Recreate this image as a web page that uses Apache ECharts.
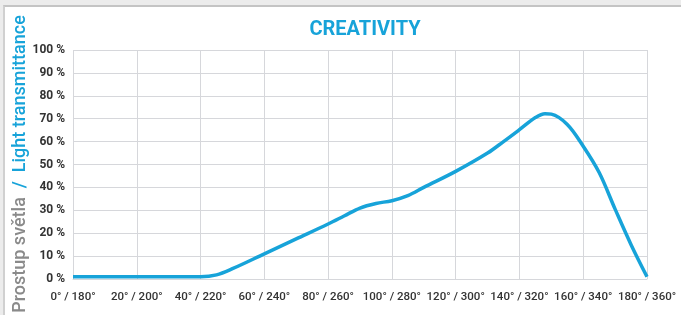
<!DOCTYPE html>
<html>
<head>
<meta charset="utf-8">
<script src="https://cdn.jsdelivr.net/npm/echarts@6/dist/echarts.min.js"></script>
<style>
    html, body {margin: 0; padding: 0; background: #ececec; overflow: hidden;}
    #frame {position: absolute; left: 3px; top: 5px; width: 700px; height: 330px;
        background: #fff; border-top: 2px solid #c4c4c4; border-left: 2px solid #d0d0d0;}
    #chart {position: absolute; left: 0; top: 0; width: 681px; height: 315px;}
</style>
</head>
<body>
<div id="frame"></div>
<div id="chart"></div>
<script>
// úhel (°) a propustnost světla (%)
const angles = [0, 10, 20, 30, 40, 45, 50, 60, 70, 80, 85, 90, 95, 100, 105, 110, 120, 130, 135, 140, 145, 148, 150, 155, 160, 165, 170, 175, 180];
const transmittance = [1, 1, 1, 1, 1, 1.8, 4.5, 11, 17.5, 24, 27.5, 31, 33, 34.2, 36.4, 40, 47, 55, 60, 65.2, 70.5, 72.2, 72, 67.5, 58, 46.5, 30.5, 15, 1];
const xTickLabels = ['0° / 180°', '20° / 200°', '40° / 220°', '60° / 240°', '80° / 260°', '100° / 280°', '120° / 300°', '140° / 320°', '160° / 340°', '180° / 360°'];
const yTickLabels = ['0 %', '10 %', '20 %', '30 %', '40 %', '50 %', '60 %', '70 %', '80 %', '90 %', '100 %'];

const blue = '#17a3d9';
const gridColor = '#d6d7db';

let chart = echarts.init(document.getElementById('chart'));
let option = {
    animation: false,
    title: {
        text: 'CREATIVITY',
        left: 360,
        textAlign: 'center',
        top: 15,
        textStyle: {
            color: blue,
            fontFamily: 'Roboto',
            fontWeight: 'bold',
            fontSize: 20
        }
    },
    grid: {
        left: 73,
        right: 34,
        top: 50,
        bottom: 36
    },
    xAxis: {
        type: 'value',
        min: 0,
        max: 180,
        interval: 20,
        axisLine: {show: true, lineStyle: {color: gridColor}},
        axisTick: {show: false},
        splitLine: {show: true, lineStyle: {color: gridColor, width: 1}},
        axisLabel: {
            margin: 12,
            color: '#333',
            fontFamily: 'Roboto',
            fontWeight: 500,
            fontSize: 11.5,
            formatter: v => xTickLabels[Math.round(v / 20)]
        }
    },
    yAxis: {
        type: 'value',
        min: 0,
        max: 100,
        interval: 10,
        axisLine: {show: false},
        axisTick: {show: false},
        splitLine: {show: true, lineStyle: {color: gridColor, width: 1}},
        axisLabel: {
            margin: 8,
            color: '#333',
            fontFamily: 'Roboto',
            fontWeight: 'bold',
            fontSize: 12,
            formatter: v => yTickLabels[Math.round(v / 10)]
        }
    },
    graphic: [
        {
            type: 'text',
            x: 20,
            y: 164,
            rotation: Math.PI / 2,
            style: {
                text: '{a|Prostup světla}{b|  /  Light transmittance}',
                align: 'center',
                verticalAlign: 'middle',
                rich: {
                    a: {fill: '#8a8a8a', fontFamily: 'Roboto', fontWeight: 500, fontSize: 18},
                    b: {fill: blue, fontFamily: 'Roboto', fontWeight: 500, fontSize: 18}
                }
            }
        }
    ],
    series: [
        {
            type: 'line',
            data: angles.map((a, i) => [a, transmittance[i]]),
            smooth: 0.35,
            showSymbol: false,
            lineStyle: {color: blue, width: 3.5},
            clip: false
        }
    ]
};
chart.setOption(option);
</script>
</body>
</html>
